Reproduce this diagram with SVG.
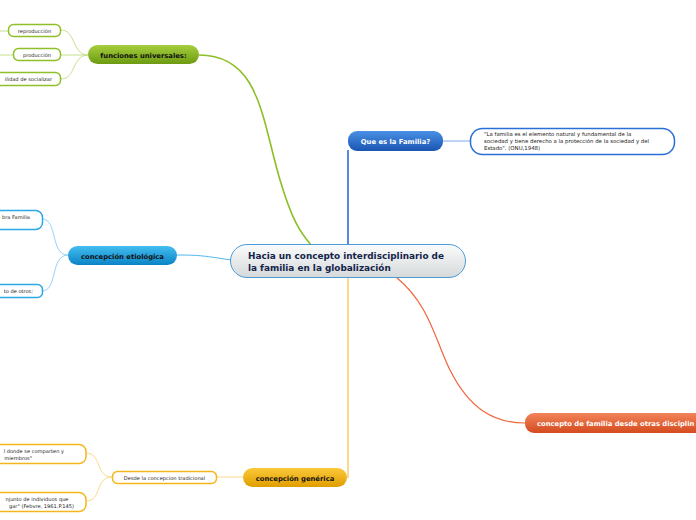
<svg xmlns="http://www.w3.org/2000/svg" width="696" height="520" viewBox="0 0 696 520">
<defs>
<linearGradient id="gC" x1="0" y1="0" x2="0" y2="1"><stop offset="0" stop-color="#fbfcfc"/><stop offset="1" stop-color="#d5d9da"/></linearGradient>
<linearGradient id="gG" x1="0" y1="0" x2="0" y2="1"><stop offset="0" stop-color="#a6cf3e"/><stop offset="1" stop-color="#6c9a12"/></linearGradient>
<linearGradient id="gB" x1="0" y1="0" x2="0" y2="1"><stop offset="0" stop-color="#4a90e6"/><stop offset="1" stop-color="#1a55b2"/></linearGradient>
<linearGradient id="gL" x1="0" y1="0" x2="0" y2="1"><stop offset="0" stop-color="#44bdf0"/><stop offset="1" stop-color="#0a84c6"/></linearGradient>
<linearGradient id="gO" x1="0" y1="0" x2="0" y2="1"><stop offset="0" stop-color="#fbc93a"/><stop offset="1" stop-color="#e09e00"/></linearGradient>
<linearGradient id="gR" x1="0" y1="0" x2="0" y2="1"><stop offset="0" stop-color="#f2845a"/><stop offset="1" stop-color="#d44a1e"/></linearGradient>
</defs>
<style>
text{font-family:"DejaVu Sans","Verdana",sans-serif}
.main{font-size:8.9px;font-weight:bold;fill:#14244a}
.t1{font-size:6.8px;font-weight:bold}
.dark{fill:#111}
.white{fill:#fff}
.sm{font-size:5.1px;fill:#222}
.q{font-size:5.4px;fill:#222}
.cg{fill:#fff;stroke:#8fc02a;stroke-width:1.5}
.cl{fill:#fff;stroke:#2aa8e8;stroke-width:1.5}
.co{fill:#fff;stroke:#f5b61c;stroke-width:1.5}
.cb{fill:#fff;stroke:#2a6fd6;stroke-width:1.5}
.lg{fill:none;stroke:#c6e08e;stroke-width:1}
.ll{fill:none;stroke:#92d4f4;stroke-width:1}
.lo{fill:none;stroke:#fbd98a;stroke-width:1}
</style>
<g id="connectors">
<path d="M199,55 C260,55 262,120 280,180 C292,220 300,232 311,245" fill="none" stroke="#8cbf26" stroke-width="1.6"/>
<path d="M348,245 L348,150" fill="none" stroke="#2a6fd6" stroke-width="1.6"/>
<path d="M443,141 L470,141" fill="none" stroke="#7aa8e8" stroke-width="1"/>
<path d="M231,260 C205,256 200,255 177,255" fill="none" stroke="#4ab8ec" stroke-width="1"/>
<path d="M348,277 L348,478" fill="none" stroke="#f8c040" stroke-width="1.2"/>
<path d="M396,277 C430,305 435,340 450,370 C470,410 495,423 525,423" fill="none" stroke="#f0643a" stroke-width="1.2"/>
<path d="M243,477 L217,477" class="lo"/>
<path d="M88,55 C72,55 76,30 61,30" class="lg"/>
<path d="M88,55 L61,55" class="lg"/>
<path d="M88,55 C72,55 76,79 61,79" class="lg"/>
<path d="M0,31 L8,31" class="lg"/>
<path d="M0,55 L13,55" class="lg"/>
<path d="M68,255 C50,255 58,219 42,219" class="ll"/>
<path d="M68,255 C50,255 58,291 42,291" class="ll"/>
<path d="M112,477 C95,477 102,453 86,453" class="lo"/>
<path d="M112,477 C95,477 102,501 86,501" class="lo"/>
</g>
<g id="central">
<rect x="230.5" y="244.5" width="235" height="33" rx="16.5" fill="url(#gC)" stroke="#4a9ad8" stroke-width="1"/>
<text class="main" x="248" y="259">Hacia un concepto interdisciplinario de</text>
<text class="main" x="248" y="271">la familia en la globalización</text>
</g>
<g id="funciones">
<rect x="88" y="45" width="111" height="19" rx="9.5" fill="url(#gG)"/>
<text class="t1 dark" x="143.5" y="57.5" text-anchor="middle">funciones universales:</text>
</g>
<g id="reproduccion">
<rect x="8.5" y="24.5" width="52" height="12" rx="5" class="cg"/>
<text class="sm" x="34.5" y="32.5" text-anchor="middle">reproducción</text>
</g>
<g id="produccion">
<rect x="13.5" y="48.5" width="47" height="12" rx="5" class="cg"/>
<text class="sm" x="37" y="56.5" text-anchor="middle">producción</text>
</g>
<g id="socializar">
<rect x="-10" y="72.5" width="70.5" height="13" rx="5" class="cg"/>
<text class="sm" x="52" y="81" text-anchor="end">ilidad de socializar</text>
</g>
<g id="que-es">
<rect x="348" y="131" width="95" height="20" rx="9" fill="url(#gB)"/>
<text class="t1 white" x="395.5" y="143.5" text-anchor="middle">Que es la Familia?</text>
</g>
<g id="quote">
<rect x="470.5" y="128.5" width="204" height="26" rx="12" class="cb"/>
<text class="q" x="484" y="136">"La familia es el elemento natural y fundamental de la</text>
<text class="q" x="484" y="143">sociedad y tiene derecho a la protección de la sociedad y del</text>
<text class="q" x="484" y="150">Estado". (ONU,1948)</text>
</g>
<g id="etiologica">
<rect x="68" y="246" width="109" height="19" rx="9.5" fill="url(#gL)"/>
<text class="t1 dark" x="122.5" y="258.5" text-anchor="middle">concepción etiológica</text>
</g>
<g id="palabra-familia">
<rect x="-12" y="210.5" width="54.5" height="19" rx="7" class="cl"/>
<text class="sm" x="30" y="218.5" text-anchor="end">bra Familia</text>
</g>
<g id="otros">
<rect x="-12" y="284.5" width="54.5" height="13" rx="5" class="cl"/>
<text class="sm" x="33" y="293" text-anchor="end">to de otros;</text>
</g>
<g id="generica">
<rect x="243" y="468" width="104" height="19" rx="9.5" fill="url(#gO)"/>
<text class="t1 dark" x="295" y="480.5" text-anchor="middle">concepción genérica</text>
</g>
<g id="tradicional">
<rect x="112.5" y="471.5" width="104" height="12" rx="5" class="co"/>
<text class="sm" x="164.5" y="479.5" text-anchor="middle">Desde la concepcion tradicional</text>
</g>
<g id="comparten">
<rect x="-12" y="444.5" width="98" height="19" rx="7" class="co"/>
<text class="sm" x="64" y="452.5" text-anchor="end">l donde se comparten y</text>
<text class="sm" x="32" y="459.5" text-anchor="end">miembros"</text>
</g>
<g id="febvre">
<rect x="-12" y="492.5" width="98" height="19" rx="7" class="co"/>
<text class="sm" x="68.5" y="500.5" text-anchor="end">njunto de individuos que</text>
<text class="sm" x="74" y="507.5" text-anchor="end">gar" (Febvre, 1961.P.145)</text>
</g>
<g id="otras-disciplinas">
<rect x="525" y="413" width="200" height="20" rx="9" fill="url(#gR)"/>
<text class="t1 white" x="537" y="425.5">concepto de familia desde otras disciplin</text>
</g>
</svg>
